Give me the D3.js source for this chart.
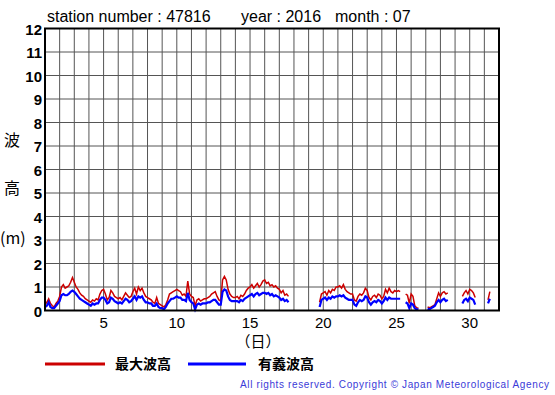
<!DOCTYPE html>
<html>
<head>
<meta charset="utf-8">
<script src="https://cdn.jsdelivr.net/npm/d3@7"></script>
<style>
  body { margin: 0; background: #fff; }
  text { font-family: 'Liberation Sans', Arial, sans-serif; }
  .jp { font-family: 'Noto Sans CJK JP', sans-serif; }
</style>
</head>
<body>
<div id="chart"></div>
<script>
// values, 3-hourly (00,03,...,21h) for each day 1..31
var maxWave = [
  [0.25, 0.35, 0.5, 0.3, 0.2, 0.15, 0.3, 0.4],
  [0.6, 1.0, 1.1, 0.95, 1.0, 1.05, 1.2, 1.4],
  [1.2, 1.0, 0.9, 0.75, 0.65, 0.6, 0.5, 0.45],
  [0.4, 0.35, 0.45, 0.4, 0.5, 0.45, 0.7, 0.85],
  [0.9, 0.7, 0.45, 0.55, 0.85, 0.75, 0.6, 0.55],
  [0.5, 0.55, 0.45, 0.6, 0.75, 0.65, 0.55, 0.6],
  [0.8, 0.95, 0.7, 1.0, 0.85, 0.95, 0.75, 0.6],
  [0.55, 0.5, 0.45, 0.35, 0.3, 0.55, 0.3, 0.25],
  [0.2, 0.15, 0.25, 0.45, 0.7, 0.75, 0.8, 0.85],
  [0.9, 0.85, 0.8, 0.65, 0.7, 0.6, 1.25, 0.7],
  [0.6, 0.55, 0.2, 0.45, 0.5, 0.4, 0.45, 0.5],
  [0.5, 0.55, 0.6, 0.7, 0.75, 0.8, 0.6, 0.45],
  [0.4, 1.3, 1.45, 1.3, 0.9, 0.7, 0.6, 0.55],
  [0.55, 0.6, 0.5, 0.65, 0.6, 0.7, 0.85, 0.95],
  [1.0, 1.1, 0.95, 1.05, 1.15, 1.0, 1.1, 1.25],
  [1.3, 1.15, 1.2, 1.05, 1.1, 1.0, 1.05, 0.95],
  [0.9, 0.75, 0.85, 0.65, 0.7, 0.6, null, null],
  [null, null, null, null, null, null, null, null],
  [null, null, null, null, null, null, 0.35, 0.7],
  [0.75, 0.8, 0.65, 0.85, 0.75, 0.9, 0.85, 1.0],
  [1.0, 1.05, 0.95, 1.1, 0.9, 0.8, 0.75, 0.7],
  [0.7, 0.45, 0.4, 0.6, 0.7, 0.65, 0.75, 0.95],
  [0.85, 0.55, 0.45, 0.6, 0.65, 0.55, 0.7, 0.65],
  [0.5, 0.6, 0.9, 0.75, 0.95, 0.8, 0.75, 0.85],
  [0.8, 0.85, 0.8, null, null, 0.7, 0.65, 0.3],
  [0.7, 0.6, 0.2, 0.12, 0.1, null, null, null],
  [null, 0.15, 0.12, 0.15, 0.2, 0.25, 0.5, 0.75],
  [0.6, 0.75, 0.8, 0.7, 0.75, null, null, null],
  [null, null, null, null, 0.6, 0.75, 0.85, 0.7],
  [0.9, 0.85, 0.75, 0.55, null, null, null, null],
  [null, null, 0.45, 0.8, null, null, null, null]
]
var sigWave = [
  [0.15, 0.2, 0.35, 0.15, 0.1, 0.1, 0.2, 0.3],
  [0.4, 0.65, 0.7, 0.65, 0.65, 0.7, 0.8, 0.85],
  [0.8, 0.7, 0.6, 0.5, 0.45, 0.4, 0.35, 0.3],
  [0.25, 0.2, 0.3, 0.25, 0.3, 0.3, 0.45, 0.55],
  [0.55, 0.45, 0.3, 0.35, 0.55, 0.5, 0.4, 0.35],
  [0.3, 0.35, 0.3, 0.4, 0.5, 0.45, 0.35, 0.4],
  [0.5, 0.6, 0.45, 0.6, 0.55, 0.6, 0.45, 0.35],
  [0.35, 0.3, 0.3, 0.2, 0.2, 0.3, 0.15, 0.1],
  [0.1, 0.05, 0.15, 0.3, 0.4, 0.5, 0.5, 0.55],
  [0.6, 0.55, 0.55, 0.45, 0.45, 0.4, 0.75, 0.45],
  [0.35, 0.3, 0.05, 0.25, 0.3, 0.25, 0.3, 0.3],
  [0.3, 0.35, 0.35, 0.4, 0.45, 0.45, 0.35, 0.25],
  [0.25, 0.8, 0.9, 0.85, 0.6, 0.45, 0.4, 0.4],
  [0.4, 0.4, 0.35, 0.45, 0.4, 0.5, 0.55, 0.6],
  [0.65, 0.7, 0.6, 0.7, 0.75, 0.65, 0.7, 0.75],
  [0.75, 0.7, 0.75, 0.65, 0.7, 0.6, 0.65, 0.6],
  [0.55, 0.45, 0.5, 0.4, 0.45, 0.35, null, null],
  [null, null, null, null, null, null, null, null],
  [null, null, null, null, null, null, 0.15, 0.45],
  [0.5, 0.55, 0.45, 0.55, 0.5, 0.6, 0.55, 0.6],
  [0.6, 0.65, 0.6, 0.65, 0.55, 0.5, 0.45, 0.45],
  [0.45, 0.25, 0.2, 0.35, 0.45, 0.4, 0.45, 0.6],
  [0.55, 0.35, 0.25, 0.35, 0.4, 0.35, 0.45, 0.4],
  [0.3, 0.4, 0.55, 0.45, 0.55, 0.5, 0.5, 0.5],
  [0.5, 0.5, 0.5, null, null, 0.35, 0.3, 0.1],
  [0.3, 0.25, 0.1, 0.05, 0.05, null, null, null],
  [null, 0.08, 0.05, 0.1, 0.15, 0.2, 0.35, 0.45],
  [0.35, 0.45, 0.5, 0.4, 0.45, null, null, null],
  [null, null, null, null, 0.3, 0.45, 0.5, 0.4],
  [0.55, 0.5, 0.45, 0.25, null, null, null, null],
  [null, null, 0.3, 0.5, null, null, null, null]
]
var xTicks = [5, 10, 15, 20, 25, 30]
var yTicks = [0, 1, 2, 3, 4, 5, 6, 7, 8, 9, 10, 11, 12]
var stepsPerDay = 8

var width = 555
var height = 395
var plot = { left: 45, right: 499, top: 28.5, bottom: 310.5 }

var svg = d3
  .select('#chart')
  .append('svg')
  .attr('width', width)
  .attr('height', height)

var x = d3.scaleLinear().domain([1, 32]).range([plot.left, plot.right])
var y = d3.scaleLinear().domain([0, 12]).range([plot.bottom, plot.top])

// grid
svg
  .selectAll('.vgrid')
  .data(d3.range(2, 32))
  .enter()
  .append('line')
  .attr('x1', d => x(d))
  .attr('x2', d => x(d))
  .attr('y1', plot.top)
  .attr('y2', plot.bottom)
  .attr('stroke', '#555')
  .attr('stroke-width', 1)

svg
  .selectAll('.hgrid')
  .data(yTicks.slice(1, -1))
  .enter()
  .append('line')
  .attr('x1', plot.left)
  .attr('x2', plot.right)
  .attr('y1', d => y(d))
  .attr('y2', d => y(d))
  .attr('stroke', '#555')
  .attr('stroke-width', 1)

// series
function toPoints (rows) {
  var pts = []
  rows.forEach((row, di) => {
    row.forEach((v, h) => {
      pts.push({ t: 1 + di + h / stepsPerDay, v: v })
    })
  })
  return pts
}

var line = d3
  .line()
  .defined(d => d.v !== null)
  .x(d => x(d.t))
  .y(d => y(d.v))

svg
  .append('path')
  .datum(toPoints(maxWave))
  .attr('d', line)
  .attr('fill', 'none')
  .attr('stroke', '#cc0000')
  .attr('stroke-width', 1.5)

svg
  .append('path')
  .datum(toPoints(sigWave))
  .attr('d', line)
  .attr('fill', 'none')
  .attr('stroke', '#0000ff')
  .attr('stroke-width', 2.2)

// frame
svg
  .append('rect')
  .attr('x', plot.left)
  .attr('y', plot.top)
  .attr('width', plot.right - plot.left)
  .attr('height', plot.bottom - plot.top)
  .attr('fill', 'none')
  .attr('stroke', '#000')
  .attr('stroke-width', 2)

// y labels
svg
  .selectAll('.ylab')
  .data(yTicks)
  .enter()
  .append('text')
  .attr('x', 42)
  .attr('y', d => y(d) + 6)
  .attr('text-anchor', 'end')
  .attr('font-size', 15)
  .attr('font-weight', 'bold')
  .text(d => d)

// x labels
svg
  .selectAll('.xlab')
  .data(xTicks)
  .enter()
  .append('text')
  .attr('x', d => x(d))
  .attr('y', 328)
  .attr('text-anchor', 'middle')
  .attr('font-size', 15)
  .text(d => d)

svg
  .append('text')
  .attr('class', 'jp')
  .attr('x', 258)
  .attr('y', 347)
  .attr('text-anchor', 'middle')
  .attr('font-size', 15)
  .text('（日）')

// y title
var yTitle = [
  { t: '波', y: 146 },
  { t: '高', y: 194 }
]
svg
  .selectAll('.ytitle')
  .data(yTitle)
  .enter()
  .append('text')
  .attr('class', 'jp')
  .attr('x', 12)
  .attr('y', d => d.y)
  .attr('text-anchor', 'middle')
  .attr('font-size', 16)
  .text(d => d.t)

svg
  .append('text')
  .attr('class', 'jp')
  .attr('x', 0)
  .attr('y', 244)
  .attr('font-size', 16)
  .text('(m)')

// title
svg
  .append('text')
  .attr('x', 47)
  .attr('y', 22)
  .attr('font-size', 16)
  .text('station number : 47816')
svg
  .append('text')
  .attr('x', 241)
  .attr('y', 22)
  .attr('font-size', 16)
  .text('year : 2016')
svg
  .append('text')
  .attr('x', 335)
  .attr('y', 22)
  .attr('font-size', 16)
  .text('month : 07')

// legend
var legend = [
  { name: '最大波高', color: '#cc0000', x1: 45, x2: 105, tx: 115 },
  { name: '有義波高', color: '#0000ff', x1: 188, x2: 246, tx: 258 }
]
legend.forEach(d => {
  svg
    .append('line')
    .attr('x1', d.x1)
    .attr('x2', d.x2)
    .attr('y1', 364)
    .attr('y2', 364)
    .attr('stroke', d.color)
    .attr('stroke-width', 3)
  svg
    .append('text')
    .attr('class', 'jp')
    .attr('x', d.tx)
    .attr('y', 369)
    .attr('font-size', 14)
    .attr('font-weight', 'bold')
    .text(d.name)
})

svg
  .append('text')
  .attr('x', 549)
  .attr('y', 388)
  .attr('text-anchor', 'end')
  .attr('font-size', 10)
  .attr('fill', '#3a3ad8')
  .attr('textLength', 309)
  .attr('lengthAdjust', 'spacing')
  .text('All rights reserved. Copyright © Japan Meteorological Agency')
</script>
</body>
</html>
